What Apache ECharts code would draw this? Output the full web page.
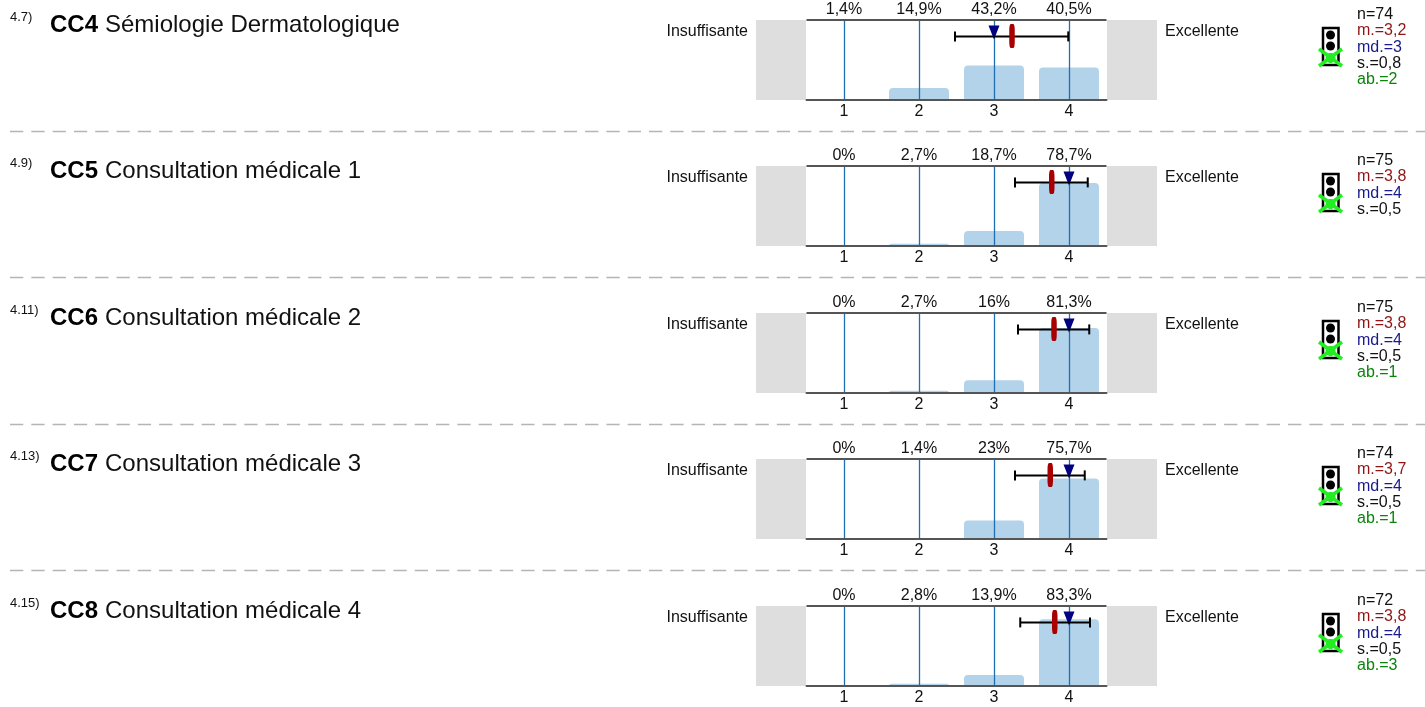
<!DOCTYPE html>
<html><head><meta charset="utf-8">
<style>html,body{margin:0;padding:0;background:#fff}#c{width:1425px;height:707px}</style>
<script src="https://cdn.jsdelivr.net/npm/echarts@6/dist/echarts.min.js"></script>
</head><body><div id="c"></div>
<script>
const numbers = ['4.7)','4.9)','4.11)','4.13)','4.15)'];
const codes = ['CC4','CC5','CC6','CC7','CC8'];
const names = ['Sémiologie Dermatologique','Consultation médicale 1','Consultation médicale 2','Consultation médicale 3','Consultation médicale 4'];
const scale = [1,2,3,4];
const pctCC4 = [1.4,14.9,43.2,40.5];
const pctCC5 = [0,2.7,18.7,78.7];
const pctCC6 = [0,2.7,16,81.3];
const pctCC7 = [0,1.4,23,75.7];
const pctCC8 = [0,2.8,13.9,83.3];
const pcts = [pctCC4,pctCC5,pctCC6,pctCC7,pctCC8];
const means = [3.24,3.77,3.8,3.75,3.81];
const medians = [3,4,4,4,4];
const lows = [2.48,3.28,3.32,3.28,3.35];
const highs = [3.99,4.25,4.27,4.21,4.28];
const statN = ['n=74','n=75','n=75','n=74','n=72'];
const statM = ['m.=3,2','m.=3,8','m.=3,8','m.=3,7','m.=3,8'];
const statMd = ['md.=3','md.=4','md.=4','md.=4','md.=4'];
const statS = ['s.=0,8','s.=0,5','s.=0,5','s.=0,5','s.=0,5'];
const statAb = ['ab.=2','','ab.=1','ab.=1','ab.=3'];

const tops = [20,166,313,459,606];
const seps = [131.5,277.5,424.5,570.5];
const FONT = '"Liberation Sans", Arial, sans-serif';
const grids=[],xAxes=[],yAxes=[],series=[],graphic=[];
const RED='#a80000',NAVY='#000080',BLUE='#1f6fb2',BAR='#b3d3ea',AX='#555555',GREEN='#0a840a';
const fmt=v=>String(v).replace('.',',')+'%';

tops.forEach((t,i)=>{
  grids.push({left:806.5,width:300,top:t,height:80});
  xAxes.push({gridIndex:i,type:'value',min:0.5,max:4.5,z:3,
    axisLine:{show:true,onZero:false,lineStyle:{color:AX,width:2}},axisTick:{show:false},splitLine:{show:false},
    axisLabel:{customValues:scale,color:'#111',fontFamily:FONT,fontSize:16,margin:4,formatter:v=>String(v)}});
  yAxes.push({gridIndex:i,type:'value',min:0,max:100,show:false});
  const common={xAxisIndex:i,yAxisIndex:i};
  series.push({...common,type:'bar',barWidth:60,z:2,silent:true,
    itemStyle:{color:BAR,borderRadius:[4,4,0,0]},
    data:scale.map((s,k)=>[s,pcts[i][k]]),
    markLine:{silent:true,symbol:'none',z:3,label:{show:false},
      lineStyle:{color:BLUE,width:1.3,type:'solid'},
      data:scale.map(s=>({xAxis:s})).concat([{yAxis:100,lineStyle:{color:AX,width:2}}])}});
  series.push({...common,type:'scatter',symbolSize:1,z:4,silent:true,itemStyle:{color:'rgba(0,0,0,0)'},
    data:scale.map((s,k)=>({value:[s,100],label:{formatter:fmt(pcts[i][k])}})),
    label:{show:true,position:'top',distance:2,color:'#111',opacity:1,fontFamily:FONT,fontSize:16}});
  series.push({...common,type:'scatter',z:5,silent:true,symbol:'triangle',symbolRotate:180,symbolSize:[11,14],
    itemStyle:{color:NAVY,opacity:1},data:[[medians[i],84.5]]});
  series.push({...common,type:'line',z:6,silent:true,symbol:'rect',symbolSize:[2,10],showSymbol:true,
    itemStyle:{color:'#000'},lineStyle:{color:'#000',width:2},data:[[lows[i],79.5],[highs[i],79.5]]});
  series.push({...common,type:'scatter',z:7,silent:true,symbol:'roundRect',symbolSize:[5.5,24],
    itemStyle:{color:RED,opacity:1},data:[[means[i],80]]});

  graphic.push({type:'rect',z:-1,shape:{x:756,y:t,width:50,height:80},style:{fill:'#dedede'}});
  graphic.push({type:'rect',z:-1,shape:{x:1107,y:t,width:50,height:80},style:{fill:'#dedede'}});
  const txt=(x,y,text,fontSize,fill,extra={})=>graphic.push({type:'text',x,y,style:{text,fontFamily:FONT,fontSize,fill,verticalAlign:'middle',...extra}});
  txt(748,t+12,'Insuffisante',16,'#111',{align:'right'});
  txt(1165,t+12,'Excellente',16,'#111');
  txt(10,t-3,numbers[i],13,'#111');
  txt(50,t+5,codes[i],24,'#000',{fontWeight:'bold'});
  txt(105,t+5,names[i],24,'#111');
  [[statN,'#111'],[statM,'#8f1515'],[statMd,'#1a1a90'],[statS,'#111'],[statAb,GREEN]].forEach(([a,c],k)=>{
    if(a[i]) txt(1357,t-5.5+k*16.3,a[i],16,c);
  });
  const L=t+7;
  graphic.push({type:'rect',shape:{x:1323,y:L+1,width:15.5,height:37},style:{fill:'#fff',stroke:'#000',lineWidth:2.5}});
  [8,19,31].forEach(d=>graphic.push({type:'circle',shape:{cx:1330.5,cy:L+d,r:4.5},style:{fill:'#000'}}));
  graphic.push({type:'circle',shape:{cx:1330.5,cy:L+31,r:5},style:{fill:'#22ee22'}});
  [[1319,L+22,1342,L+39],[1319,L+39,1342,L+22]].forEach(([a,b,c,d])=>
    graphic.push({type:'line',shape:{x1:a,y1:b,x2:c,y2:d},style:{stroke:'#22ee22',lineWidth:3.5}}));
});
seps.forEach(y=>graphic.push({type:'line',shape:{x1:10,y1:y,x2:1425,y2:y},style:{stroke:'#b5b5b5',lineWidth:1.5,lineDash:[13.3,8]}}));

const chart=echarts.init(document.getElementById('c'),null,{renderer:'canvas'});
chart.setOption({animation:false,backgroundColor:'#fff',tooltip:{show:false},grid:grids,xAxis:xAxes,yAxis:yAxes,series,graphic});
</script></body></html>
